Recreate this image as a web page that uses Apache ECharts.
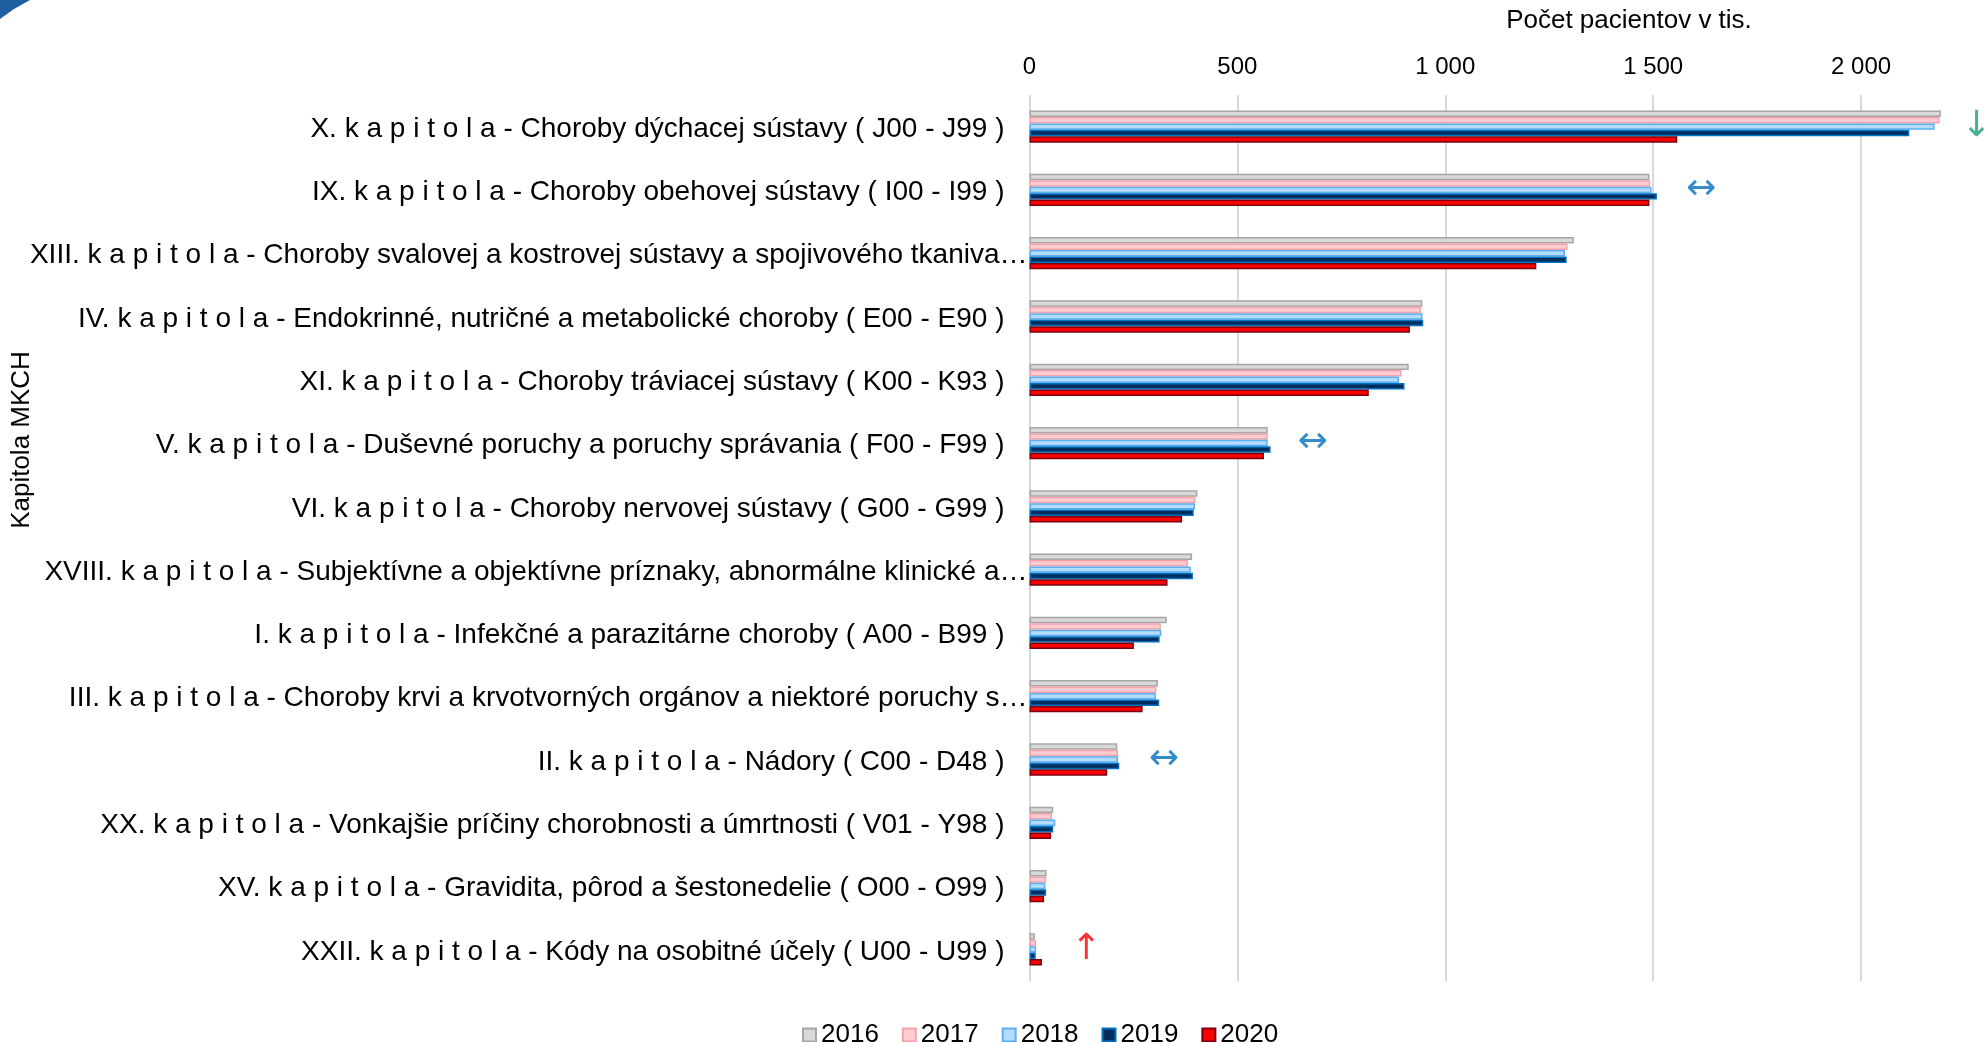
<!DOCTYPE html>
<html>
<head>
<meta charset="utf-8">
<script src="https://cdn.jsdelivr.net/npm/echarts@6/dist/echarts.min.js"></script>
<style>
html,body{margin:0;padding:0;background:#fff;}
#chart{width:1985px;height:1042px;}
</style>
</head>
<body>
<div id="chart"></div>
<script>
const categories = [
  "X. k a p i t o l a - Choroby dýchacej sústavy ( J00 - J99 )",
  "IX. k a p i t o l a - Choroby obehovej sústavy ( I00 - I99 )",
  "XIII. k a p i t o l a - Choroby svalovej a kostrovej sústavy a spojivového tkaniva…",
  "IV. k a p i t o l a - Endokrinné, nutričné a metabolické choroby ( E00 - E90 )",
  "XI. k a p i t o l a - Choroby tráviacej sústavy ( K00 - K93 )",
  "V. k a p i t o l a - Duševné poruchy a poruchy správania ( F00 - F99 )",
  "VI. k a p i t o l a - Choroby nervovej sústavy ( G00 - G99 )",
  "XVIII. k a p i t o l a - Subjektívne a objektívne príznaky, abnormálne klinické a…",
  "I. k a p i t o l a - Infekčné a parazitárne choroby ( A00 - B99 )",
  "III. k a p i t o l a - Choroby krvi a krvotvorných orgánov a niektoré poruchy s…",
  "II. k a p i t o l a - Nádory ( C00 - D48 )",
  "XX. k a p i t o l a - Vonkajšie príčiny chorobnosti a úmrtnosti ( V01 - Y98 )",
  "XV. k a p i t o l a - Gravidita, pôrod a šestonedelie ( O00 - O99 )",
  "XXII. k a p i t o l a - Kódy na osobitné účely ( U00 - U99 )"
];
const years = ["2016", "2017", "2018", "2019", "2020"];
const v2016 = [2192, 1491, 1309, 945, 912, 573, 404, 391, 330, 309, 211, 57, 41, 13];
const v2017 = [2189, 1493, 1294, 942, 895, 573, 399, 381, 316, 305, 213, 54, 40, 16];
const v2018 = [2177, 1496, 1288, 945, 889, 573, 398, 388, 317, 304, 213, 62, 38, 16];
const v2019 = [2116, 1509, 1292, 947, 902, 580, 395, 393, 313, 312, 216, 57, 40, 15];
const v2020 = [1558, 1491, 1219, 915, 816, 564, 367, 332, 251, 272, 187, 52, 35, 30];
const xTicks = [0, 500, 1000, 1500, 2000];
const xTickLabels = ["0", "500", "1 000", "1 500", "2 000"];
const axisTitle = "Počet pacientov v tis.";
const categoryTitle = "Kapitola MKCH";
// trend arrows: value position, category index, glyph, colour
const arrowPos = [2277, 1615, 681, 323, 136];
const arrowCat = [0, 1, 5, 10, 13];
const arrowGlyph = ["↓", "↔", "↔", "↔", "↑"];
const arrowColor = ["#1b9e77", "#0070c0", "#0070c0", "#0070c0", "#ff0000"];

const fills = ["#d9d9d9", "#ffccd2", "#b4dcff", "#002e5c", "#ff0000"];
const borders = ["#a6a6a6", "#f4a3ab", "#5aaff0", "#0070c0", "#7a0010"];
const seriesValues = [v2016, v2017, v2018, v2019, v2020];
const FONT = "'Liberation Sans', Arial, sans-serif";

const chart = echarts.init(document.getElementById('chart'), null, {renderer: 'canvas'});

const barSeries = years.map((y, i) => ({
  name: y,
  type: 'bar',
  data: seriesValues[i],
  barGap: '0%',
  barCategoryGap: '49%',
  itemStyle: {color: fills[i], borderColor: borders[i], borderWidth: 1.5},
  emphasis: {disabled: true}
}));

const arrowSeries = {
  type: 'scatter',
  clip: false,
  silent: true,
  symbolSize: 1,
  itemStyle: {color: 'rgba(0,0,0,0)'},
  data: arrowPos.map((p, i) => ({
    value: [p, arrowCat[i]],
    label: {
      show: true,
      position: 'inside',
      formatter: arrowGlyph[i],
      color: arrowColor[i],
      fontSize: 36,
      fontFamily: "'DejaVu Sans', sans-serif"
    }
  }))
};

const labelBase = {fontSize: 28, color: '#000', fontFamily: FONT};

const option = {
  animation: false,
  backgroundColor: '#ffffff',
  grid: {left: 1029.5, right: 40.8, top: 95, bottom: 61, containLabel: false},
  legend: {
    data: years,
    left: 797,
    top: 1017,
    icon: 'rect',
    itemWidth: 13,
    itemHeight: 13,
    itemGap: 23,
    textStyle: {fontSize: 26, color: '#000', fontFamily: FONT}
  },
  xAxis: {
    type: 'value',
    position: 'top',
    min: 0,
    max: 2200,
    interval: 500,
    axisLine: {show: false},
    axisTick: {show: false},
    splitLine: {show: true, showMaxLine: false, lineStyle: {color: '#d9d9d9', width: 2}},
    axisLabel: {
      showMaxLabel: false,
      margin: 16,
      fontSize: 24,
      color: '#000',
      fontFamily: FONT,
      formatter: function (v) {
        const idx = xTicks.indexOf(v);
        return idx >= 0 ? xTickLabels[idx] : '';
      }
    }
  },
  yAxis: {
    type: 'category',
    inverse: true,
    data: categories,
    axisLine: {show: false},
    axisTick: {show: false},
    splitLine: {show: false},
    axisLabel: {
      margin: 2,
      fontSize: 28, color: '#000', fontFamily: FONT,
      formatter: function (v) {
        return v.endsWith('…') ? '{t|' + v + '}' : '{n|' + v + '}';
      },
      rich: {
        n: Object.assign({padding: [5, 23, 0, 0]}, labelBase),
        t: Object.assign({padding: [5, 0, 0, 0]}, labelBase)
      }
    }
  },
  graphic: [
    {
      type: 'text', x: 1629, y: 21,
      style: {text: axisTitle, font: "26px 'Liberation Sans', Arial, sans-serif", fill: '#000', textAlign: 'center', textVerticalAlign: 'middle'}
    },
    {
      type: 'text', x: 22, y: 440, rotation: Math.PI / 2,
      style: {text: categoryTitle, font: "26px 'Liberation Sans', Arial, sans-serif", fill: '#000', textAlign: 'center', textVerticalAlign: 'middle'}
    },
    {
      type: 'polygon',
      shape: {points: [[0, 0], [30, 0], [14, 9], [0, 19]]},
      style: {fill: '#1f5fa0'}
    }
  ],
  series: barSeries.concat([arrowSeries])
};

chart.setOption(option);
</script>
</body>
</html>
